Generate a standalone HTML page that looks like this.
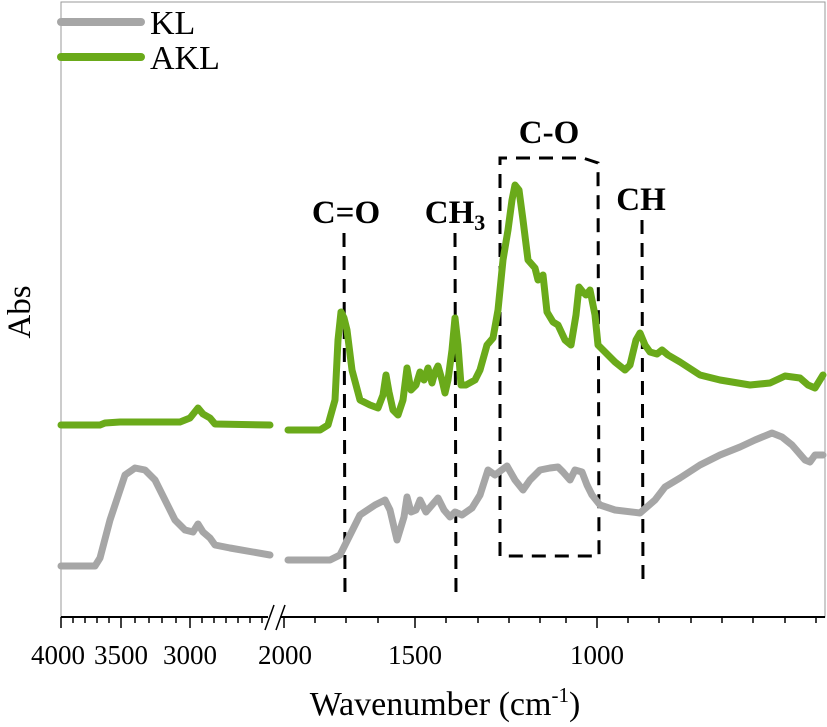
<!DOCTYPE html>
<html><head><meta charset="utf-8"><style>
html,body{margin:0;padding:0;background:#fff;}
svg{display:block;font-family:"Liberation Serif",serif;}
</style></head><body>
<svg width="827" height="727" viewBox="0 0 827 727" xmlns="http://www.w3.org/2000/svg">
<rect x="61" y="2" width="764" height="615" fill="none" stroke="#999" stroke-width="1"/>
<!-- legend -->
<line x1="61" y1="22" x2="141" y2="22" stroke="#a6a6a6" stroke-width="8" stroke-linecap="round"/>
<text x="150" y="34" font-size="34">KL</text>
<line x1="61" y1="57" x2="141" y2="57" stroke="#6aaa1a" stroke-width="8" stroke-linecap="round"/>
<text x="150" y="69" font-size="34">AKL</text>
<!-- dashed annotations -->
<g stroke="#000" stroke-width="3" stroke-dasharray="14,9" fill="none">
<line x1="344" y1="233" x2="345" y2="600"/>
<line x1="455" y1="233" x2="456" y2="600"/>
<line x1="642" y1="220" x2="643" y2="588"/>
<polyline points="500,556 500,158 583,158 598,163 599,556 500,556"/>
</g>
<g font-weight="bold" font-size="33" text-anchor="middle">
<text x="346" y="223">C=O</text>
<text x="455" y="223">CH<tspan font-size="22" dy="7">3</tspan></text>
<text x="549" y="143">C-O</text>
<text x="641" y="210">CH</text>
</g>
<!-- series -->
<g fill="none" stroke-width="7" stroke-linejoin="round" stroke-linecap="round">
<polyline stroke="#a6a6a6" points="61,566 95,566 100,558 110,520 125,475 135,468 145,470 155,480 175,520 185,530 193,532 198,524 203,532 210,538 215,545 230,548 270,555"/>
<polyline stroke="#a6a6a6" points="288,560 330,560 340,555 350,535 360,515 375,505 385,500 390,510 397,540 404,517 407,497 411,512 416,510 420,500 426,512 432,505 438,498 444,510 450,517 455,512 462,515 472,508 480,495 488,470 495,475 507,466 515,480 523,490 530,480 540,470 550,468 558,467 563,472 570,480 575,470 582,472 587,485 592,495 600,505 615,510 640,513 655,500 665,487 680,478 700,465 720,455 740,447 755,440 772,433 782,437 792,445 805,460 810,462 815,455 823,455"/>
<polyline stroke="#6aaa1a" points="61,425 100,425 105,423 120,422 180,422 190,418 198,408 203,414 210,418 215,424 270,425"/>
<polyline stroke="#6aaa1a" points="288,430 320,430 328,425 335,400 338,340 341,312 344,318 347,330 352,370 360,400 370,405 378,408 383,395 386,375 389,392 393,410 398,415 403,400 407,368 411,390 416,385 420,372 424,380 428,368 432,383 435,372 438,366 442,380 445,393 448,380 452,350 455,318 458,345 461,385 466,385 475,380 480,370 487,345 493,338 498,310 503,260 508,230 512,200 515,185 519,190 523,220 528,260 535,268 538,280 543,275 547,312 553,322 558,325 565,340 571,345 576,315 579,287 583,292 586,295 590,290 595,315 598,345 605,352 615,362 625,370 630,365 636,340 640,333 645,345 650,352 657,354 662,350 668,355 680,362 700,375 720,380 750,385 770,383 785,376 800,378 808,385 815,388 823,375"/>
</g>
<!-- x axis -->
<line x1="61" y1="617" x2="825" y2="617" stroke="#000" stroke-width="2"/>
<g stroke="#000" stroke-width="1.5">
<line x1="61" y1="617" x2="61" y2="628"/>
<line x1="73" y1="617" x2="73" y2="623"/><line x1="85" y1="617" x2="85" y2="623"/><line x1="97" y1="617" x2="97" y2="623"/><line x1="109" y1="617" x2="109" y2="623"/>
<line x1="121" y1="617" x2="121" y2="628"/>
<line x1="135" y1="617" x2="135" y2="623"/><line x1="149" y1="617" x2="149" y2="623"/><line x1="162" y1="617" x2="162" y2="623"/><line x1="176" y1="617" x2="176" y2="623"/>
<line x1="190" y1="617" x2="190" y2="628"/>
<line x1="202" y1="617" x2="202" y2="623"/><line x1="214" y1="617" x2="214" y2="623"/><line x1="226" y1="617" x2="226" y2="623"/><line x1="238" y1="617" x2="238" y2="623"/><line x1="250" y1="617" x2="250" y2="623"/><line x1="262" y1="617" x2="262" y2="623"/>
<line x1="284" y1="617" x2="284" y2="628"/>
<line x1="315" y1="617" x2="315" y2="623"/><line x1="346" y1="617" x2="346" y2="623"/><line x1="378" y1="617" x2="378" y2="623"/>
<line x1="415" y1="617" x2="415" y2="628"/>
<line x1="446" y1="617" x2="446" y2="623"/><line x1="478" y1="617" x2="478" y2="623"/><line x1="509" y1="617" x2="509" y2="623"/><line x1="540" y1="617" x2="540" y2="623"/><line x1="566" y1="617" x2="566" y2="623"/>
<line x1="597" y1="617" x2="597" y2="628"/>
<line x1="628" y1="617" x2="628" y2="623"/><line x1="659" y1="617" x2="659" y2="623"/><line x1="691" y1="617" x2="691" y2="623"/><line x1="722" y1="617" x2="722" y2="623"/><line x1="753" y1="617" x2="753" y2="623"/><line x1="785" y1="617" x2="785" y2="623"/><line x1="816" y1="617" x2="816" y2="623"/>
</g>
<rect x="268" y="610" width="12" height="14" fill="#fff"/>
<line x1="265" y1="630" x2="274" y2="605" stroke="#000" stroke-width="1.5"/>
<line x1="276" y1="630" x2="285" y2="605" stroke="#000" stroke-width="1.5"/>
<g font-size="27" text-anchor="middle">
<text x="58" y="664">4000</text>
<text x="121" y="664">3500</text>
<text x="190" y="664">3000</text>
<text x="285" y="664">2000</text>
<text x="415" y="664">1500</text>
<text x="597" y="664">1000</text>
</g>
<text x="445" y="715" font-size="34" text-anchor="middle">Wavenumber (cm<tspan font-size="21" dy="-13">-1</tspan><tspan dy="13">)</tspan></text>
<text transform="translate(30,312) rotate(-90)" font-size="33" text-anchor="middle">Abs</text>
</svg>
</body></html>
